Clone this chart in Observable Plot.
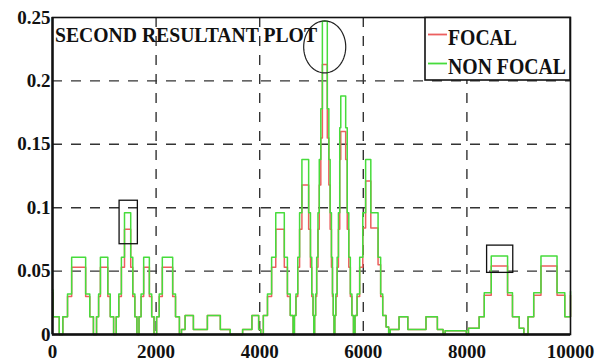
<!DOCTYPE html>
<html>
<head>
<meta charset="utf-8">
<script src="https://cdn.jsdelivr.net/npm/d3@7"></script>
<script src="https://cdn.jsdelivr.net/npm/@observablehq/plot@0.6"></script>
<style>
  html, body { margin: 0; padding: 0; background: #fff; }
  #chart { width: 596px; height: 362px; }
  #chart svg text { font-family: "Liberation Serif", "Times New Roman", "DejaVu Serif", serif; font-weight: bold; }
</style>
</head>
<body>
<div id="chart"></div>
<script>
// ---- data ----
const xTicks = [0, 2000, 4000, 6000, 8000, 10000];
const yTicks = [0, 0.05, 0.1, 0.15, 0.2, 0.25];
const seriesNames = ["FOCAL", "NON FOCAL"];
const titleText = "SECOND RESULTANT PLOT";

const stepX = [
  0, 10, 130, 200, 290, 370, 640, 720, 790,
  850, 890, 925, 1068, 1115, 1180,
  1230, 1280, 1330, 1390, 1510, 1550, 1590, 1630,
  1670, 1710, 1760, 1870, 1915, 1960,
  2010, 2060, 2120, 2320, 2375, 2450,
  2490, 2560, 2720, 2990, 3240, 3430, 3670, 3850, 3980, 4020,
  4070, 4150, 4230, 4310, 4475, 4535, 4590, 4645,
  4670, 4700, 4735, 4770, 4815, 4945, 4980, 5005, 5030, 5045,
  5060, 5080, 5100, 5125, 5150, 5180, 5210, 5305, 5335, 5360, 5385, 5405, 5420, 5435,
  5450, 5470, 5495, 5520, 5545, 5565, 5660, 5690, 5720, 5750, 5780, 5810,
  5840, 5880, 5930, 5990, 6045, 6145, 6285, 6335, 6375, 6440, 6490,
  6520, 6690, 6860, 7210, 7430, 7540, 7580, 7990, 8030,
  8236, 8335, 8470, 8785, 8880, 9010, 9100,
  9180, 9290, 9430, 9740, 9890, 10000
];
const nonFocal = [
  0.035, 0.014, 0, 0.014, 0.032, 0.061, 0.032, 0.014, 0,
  0.014, 0.032, 0.061, 0.032, 0.014, 0,
  0.014, 0.032, 0.061, 0.096, 0.061, 0.032, 0.014, 0,
  0.014, 0.032, 0.061, 0.032, 0.014, 0,
  0.014, 0.032, 0.061, 0.032, 0.014, 0,
  0.004, 0.015, 0.004, 0.015, 0.004, 0, 0.004, 0.015, 0.004, 0,
  0.015, 0.032, 0.061, 0.096, 0.061, 0.032, 0.015, 0,
  0.015, 0.032, 0.061, 0.096, 0.138, 0.096, 0.061, 0.032, 0.015, 0,
  0.015, 0.032, 0.061, 0.096, 0.138, 0.178, 0.247, 0.178, 0.138, 0.096, 0.061, 0.032, 0.015, 0,
  0.015, 0.032, 0.061, 0.096, 0.163, 0.188, 0.163, 0.096, 0.061, 0.032, 0.015, 0,
  0.015, 0.032, 0.061, 0.096, 0.138, 0.096, 0.061, 0.032, 0.015, 0.006, 0,
  0.004, 0.014, 0.004, 0.014, 0.004, 0, 0.003, 0, 0.005,
  0.014, 0.033, 0.062, 0.033, 0.014, 0.005, 0,
  0.014, 0.033, 0.062, 0.033, 0.014, 0.034
];
const focal = [
  0.033, 0.014, 0, 0.014, 0.030, 0.053, 0.030, 0.014, 0,
  0.014, 0.030, 0.053, 0.030, 0.014, 0,
  0.014, 0.030, 0.053, 0.083, 0.053, 0.030, 0.014, 0,
  0.014, 0.030, 0.053, 0.030, 0.014, 0,
  0.014, 0.030, 0.053, 0.030, 0.014, 0,
  0.004, 0.015, 0.004, 0.015, 0.004, 0, 0.004, 0.015, 0.004, 0,
  0.015, 0.030, 0.053, 0.083, 0.053, 0.030, 0.015, 0,
  0.015, 0.030, 0.053, 0.083, 0.118, 0.083, 0.053, 0.030, 0.015, 0,
  0.015, 0.030, 0.053, 0.083, 0.118, 0.155, 0.213, 0.155, 0.118, 0.083, 0.053, 0.030, 0.015, 0,
  0.015, 0.030, 0.053, 0.083, 0.138, 0.160, 0.138, 0.083, 0.053, 0.030, 0.015, 0,
  0.015, 0.030, 0.053, 0.084, 0.121, 0.084, 0.055, 0.030, 0.015, 0.006, 0,
  0.004, 0.014, 0.004, 0.014, 0.004, 0, 0.003, 0, 0.005,
  0.014, 0.031, 0.054, 0.031, 0.014, 0.005, 0,
  0.014, 0.031, 0.054, 0.031, 0.014, 0.031
];

// annotation shapes (in data units)
const boxX1 = [1295, 8390];
const boxX2 = [1648, 8895];
const boxY1 = [0.0712, 0.0486];
const boxY2 = [0.1055, 0.0701];
const ellipseCenter = [5255, 0.2268];
const ellipseRadius = [406, 0.0205];

// ---- build ----
const RED = "#ec5f5f";
const GREEN = "#47dc3c";
const focalRows = stepX.map((x, i) => ({x, y: focal[i]}));
const nonFocalRows = stepX.map((x, i) => ({x, y: nonFocal[i]}));
const boxes = boxX1.map((d, i) => ({x1: d, x2: boxX2[i], y1: boxY1[i], y2: boxY2[i]}));
const ellipse = d3.range(0, 73).map(k => {
  const t = (k / 72) * 2 * Math.PI;
  return {x: ellipseCenter[0] + ellipseRadius[0] * Math.cos(t), y: ellipseCenter[1] + ellipseRadius[1] * Math.sin(t)};
});

const FONT = "Liberation Serif, Times New Roman, DejaVu Serif, serif";
const font = {fontSize: 19, fontWeight: "bold", fontFamily: FONT, fill: "#111"};

const chart = Plot.plot({
  width: 596,
  height: 362,
  marginLeft: 52,
  marginRight: 26,
  marginTop: 17,
  marginBottom: 28,
  style: {background: "#fff", overflow: "visible", fontFamily: FONT},
  x: {domain: [0, 10000]},
  y: {domain: [0, 0.25]},
  marks: [
    Plot.ruleX(xTicks.slice(1, -1), {stroke: "#333", strokeWidth: 1.4, strokeDasharray: "10,9"}),
    Plot.ruleY(yTicks.slice(1, -1), {stroke: "#333", strokeWidth: 1.4, strokeDasharray: "10,9"}),
    Plot.line(focalRows, {x: "x", y: "y", curve: "step-after", stroke: RED, strokeWidth: 1.5}),
    Plot.line(nonFocalRows, {x: "x", y: "y", curve: "step-after", stroke: GREEN, strokeWidth: 1.5}),
    Plot.rect(boxes, {x1: "x1", x2: "x2", y1: "y1", y2: "y2", fill: "none", stroke: "#111", strokeWidth: 1.3}),
    Plot.line(ellipse, {x: "x", y: "y", stroke: "#222", strokeWidth: 1.2}),
    Plot.frame({stroke: "#111", strokeWidth: 1.6}),
    Plot.ruleX([0], {stroke: "#111", strokeWidth: 2.4}),
    Plot.ruleY([0], {stroke: "#111", strokeWidth: 2.6}),
    Plot.axisX(xTicks, {tickSize: 0, tickPadding: 10, tickFormat: d => String(d), ...font}),
    Plot.axisY(yTicks, {tickSize: 0, tickPadding: 2, tickFormat: d => String(d), ...font})
  ]
});
document.getElementById("chart").appendChild(chart);

// title and legend inside the plot frame
const svg = d3.select(chart);
svg.append("text")
  .attr("x", 55).attr("y", 42)
  .attr("text-anchor", "start")
  .attr("textLength", 262).attr("lengthAdjust", "spacingAndGlyphs")
  .attr("font-family", FONT).attr("font-weight", "bold")
  .attr("font-size", 22).attr("fill", "#111")
  .text(titleText);

const lg = svg.append("g").attr("text-anchor", "start");
lg.append("rect").attr("x", 425).attr("y", 17.5).attr("width", 145).attr("height", 62.5)
  .attr("fill", "#fff").attr("stroke", "#111").attr("stroke-width", 1.6);
const legendColors = [RED, GREEN];
const legendY = [34.5, 63.5];
const legendLen = [69, 118];
seriesNames.forEach((name, i) => {
  lg.append("line").attr("x1", 428).attr("x2", 447).attr("y1", legendY[i]).attr("y2", legendY[i])
    .attr("stroke", legendColors[i]).attr("stroke-width", 1.8);
  lg.append("text").attr("x", 448).attr("y", legendY[i] + 10.5)
    .attr("text-anchor", "start")
    .attr("textLength", legendLen[i]).attr("lengthAdjust", "spacingAndGlyphs")
    .attr("font-family", FONT).attr("font-weight", "bold")
    .attr("font-size", 23).attr("fill", "#111")
    .text(name);
});
</script>
</body>
</html>
